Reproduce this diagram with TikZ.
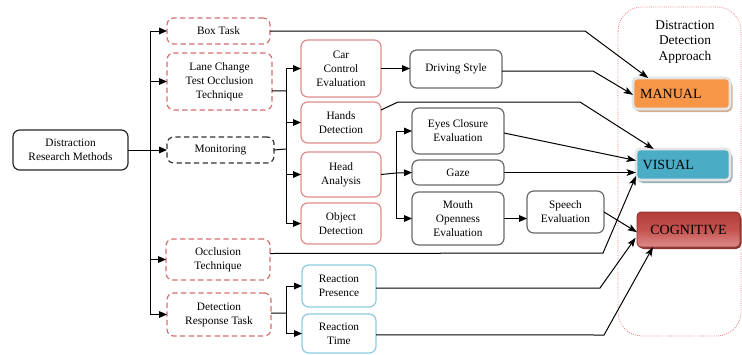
\documentclass[tikz,border=0pt]{standalone}
\usepackage{fontspec}
\setmainfont{Liberation Serif}
\usetikzlibrary{arrows.meta,shadows,calc}
\definecolor{dred}{RGB}{212,112,110}
\definecolor{sred}{RGB}{222,140,140}
\definecolor{gbox}{RGB}{105,105,105}
\definecolor{bbox}{RGB}{140,202,222}
\definecolor{manualc}{RGB}{247,150,70}
\definecolor{visualc}{RGB}{75,172,198}
\definecolor{cogtop}{RGB}{178,62,58}
\definecolor{cogmid}{RGB}{196,82,78}
\definecolor{cogbot}{RGB}{222,140,138}
\definecolor{contc}{RGB}{230,120,120}
\definecolor{mshad}{RGB}{210,175,145}
\definecolor{vshad}{RGB}{150,175,185}
\definecolor{cshad}{RGB}{140,50,48}
\begin{document}
\begin{tikzpicture}[x=0.75pt,y=-0.75pt,
  sz/.style 2 args={minimum width={#1*0.75pt},minimum height={#2*0.75pt}},
  base/.style={rounded corners=5pt,align=center,inner sep=1pt,outer sep=0pt,
    font=\fontsize{8.5}{10.5}\selectfont,line width=0.9pt},
  dashr/.style={base,draw=dred,dash pattern=on 4pt off 2.5pt},
  dashk/.style={base,draw=black!80,dash pattern=on 4pt off 2.5pt},
  solr/.style={base,draw=sred},
  solg/.style={base,draw=gbox},
  solk/.style={base,draw=black!85},
  solb/.style={base,draw=bbox},
  cat/.style={rounded corners=3pt,inner sep=0pt,outer sep=0pt,
    font=\fontsize{10.5}{12}\selectfont},
  ln/.style={line width=0.75pt,black},
  tarr/.style={ln,-{Triangle[length=6pt,width=5pt]}},
  rarr/.style={ln,-{Stealth[length=7pt,width=5pt,inset=1.5pt]}}]
\useasboundingbox (0,0) rectangle (742,354);

% container
\draw[contc,densely dotted,line width=0.6pt,rounded corners=18pt] (618,7) rectangle (741,336);
\node[font=\fontsize{10}{11.3}\selectfont,align=center] (title) at (685,42) {Distraction\\Detection\\Approach};

% left column
\node[solk,sz={115}{40}] (drm) at (70.5,150) {Distraction\\Research Methods};
\node[dashr,sz={103}{26}] (box) at (218.5,31) {Box Task};
\node[dashr,sz={105}{57}] (lane) at (219.5,81.5) {Lane Change\\Test Occlusion\\Technique};
\node[dashk,sz={107}{26}] (mon) at (220.5,150) {Monitoring};
\node[dashr,sz={104}{41}] (occ) at (218,259.5) {Occlusion\\Technique};
\node[dashr,sz={104}{43}] (drt) at (219,314.5) {Detection\\Response Task};

% second column
\node[solr,sz={80}{57}] (car) at (341,68.5) {Car\\Control\\Evaluation};
\node[solr,sz={80}{41}] (hands) at (341,122.5) {Hands\\Detection};
\node[solr,sz={80}{45}] (head) at (341,174.5) {Head\\Analysis};
\node[solr,sz={80}{41}] (obj) at (341,223.5) {Object\\Detection};
\node[solb,sz={74}{42}] (rp) at (339,286) {Reaction\\Presence};
\node[solb,sz={74}{39}] (rt) at (339,333.5) {Reaction\\Time};

% third column
\node[solg,sz={92}{38}] (drv) at (456,69) {Driving Style};
\node[solg,sz={92}{46}] (eyes) at (458,131) {Eyes Closure\\Evaluation};
\node[solg,sz={92}{25}] (gaze) at (458,172.5) {Gaze};
\node[solg,sz={92}{53}] (mouth) at (458,218.5) {Mouth\\Openness\\Evaluation};
\node[solg,sz={77}{42}] (speech) at (565.5,212) {Speech\\Evaluation};

% categories
\fill[rounded corners=4pt,mshad] (634.5,80.5) rectangle (732.5,112);
\node[cat,sz={97}{31},fill=manualc,draw=white!90!black,line width=2pt] (manual) at (681.5,93.5) {\hspace*{-16pt}MANUAL};
\fill[rounded corners=4pt,vshad] (637.5,151.5) rectangle (732.5,183);
\node[cat,sz={94}{31},fill=visualc,draw=white!90!black,line width=2pt] (visual) at (683,164.5) {\hspace*{-22pt}VISUAL};
\fill[rounded corners=4pt,cshad] (638,213) rectangle (741.5,249);
\node[cat,sz={103}{35},top color=cogtop,bottom color=cogbot,middle color=cogmid,draw=cogtop!80!black,line width=0.6pt] (cog) at (688.5,229.5) {COGNITIVE};

% trunk 1
\coordinate (t1) at (150,150);
\draw[ln] (drm.east) -- (t1);
\draw[tarr] (t1) |- (box.west);
\draw[tarr] (t1) |- (lane.west);
\draw[tarr] (t1) -- (mon.west);
\draw[tarr] (t1) |- (occ.west);
\draw[tarr] (t1) |- (drt.west);

% trunk 2
\coordinate (t2a) at (286,91);
\coordinate (t2b) at (286,149);
\draw[ln] ([yshift=-7pt]lane.east) -- (t2a);
\draw[ln] (mon.east) -- (t2b);
\draw[tarr] (t2b) |- (car.west);
\draw[tarr] (t2b) |- (hands.west);
\draw[tarr] (t2b) |- (head.west);
\draw[tarr] (t2b) |- (obj.west);

% trunk 3
\coordinate (t3) at (396,173);
\draw[ln] (head.east) -- (t3);
\draw[tarr] (t3) |- (eyes.west);
\draw[tarr] (t3) -- (gaze.west);
\draw[tarr] (t3) |- (mouth.west);
\draw[tarr] (car.east) -- (car.east -| drv.west);
\draw[tarr] (mouth.east) -- (mouth.east -| speech.west);

% trunk 4
\coordinate (t4) at (286,313);
\draw[ln] ([yshift=1pt]drt.east) -- (t4);
\draw[tarr] (t4) |- (rp.west);
\draw[tarr] (t4) |- (rt.west);

% to categories
\coordinate (b1) at (585,31);
\draw[rarr] (box.east) -- (b1) -- ([xshift=-25pt]manual.north);
\coordinate (b2) at (593,71);
\draw[rarr] (drv.east |- b2) -- (b2) -- ([yshift=-1pt]manual.west);
\coordinate (b3a) at (398,102);
\coordinate (b3b) at (580,102);
\draw[rarr] ([yshift=-6pt]hands.north east) -- (b3a) -- (b3b) -- ([xshift=-22pt]visual.north);
\draw[rarr] ([yshift=-1.5pt]eyes.east) -- ([yshift=3pt]visual.west);
\draw[rarr] (gaze.east) -- (gaze.east -| visual.west);
\coordinate (b4) at (603,253);
\draw[rarr] ([yshift=4.5pt]occ.east) -- (b4) -- ([yshift=3pt]visual.south west);
\draw[rarr] (speech.east) -- ([yshift=-2pt]cog.west);
\coordinate (b5) at (600,288);
\draw[rarr] ([yshift=-1.5pt]rp.east) -- (b5) -- ([xshift=-1pt,yshift=7pt]cog.south west);
\coordinate (b6) at (604,335);
\draw[rarr] ([yshift=-1pt]rt.east) -- (b6) -- ([xshift=12pt]cog.south west);
\end{tikzpicture}
\end{document}
